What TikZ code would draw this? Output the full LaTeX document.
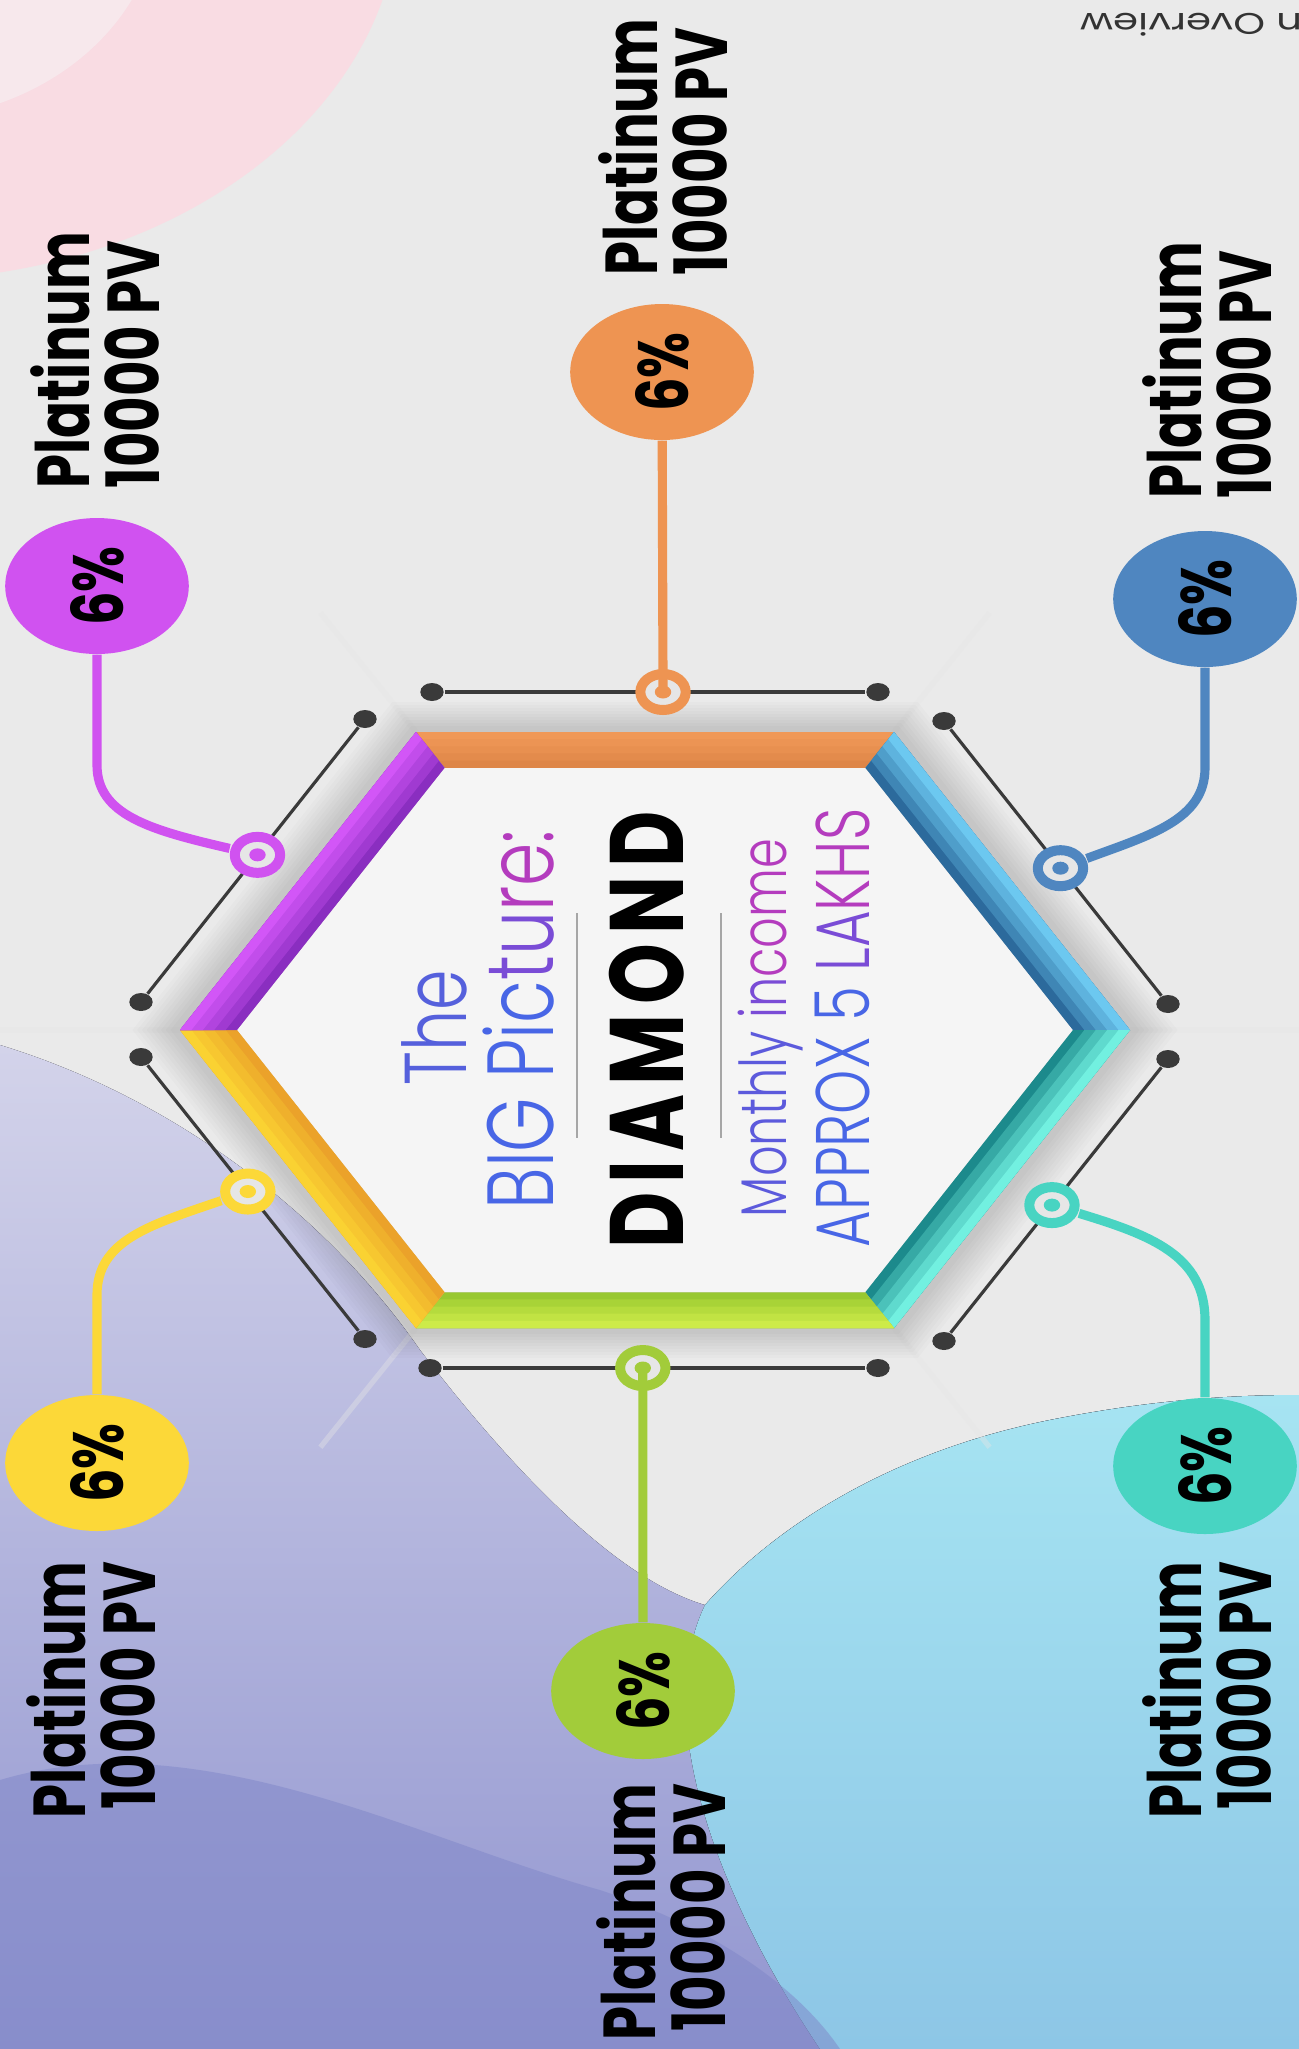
\documentclass[tikz,border=0pt]{standalone}
\usepackage{fontspec}
\usetikzlibrary{calc}
\setmainfont{Poppins}
\IfFontExistsTF{Poppins Light}
  {\newfontfamily\thinfont{Poppins Light}}
  {\newfontfamily\thinfont{Poppins}}
\newfontfamily\wideface[LetterSpace=12]{Poppins}

\definecolor{bgC}{HTML}{EAEAEA}
\definecolor{pinkC}{HTML}{F9DCE3}
\definecolor{pinkL}{HTML}{F7E8EC}
\definecolor{lavC}{HTML}{D3D3EA}
\definecolor{lavD}{HTML}{9296D0}
\definecolor{cyanC}{HTML}{A6E4F2}
\definecolor{cyanD}{HTML}{8DC6E6}
\definecolor{deepC}{HTML}{7F86C8}
\definecolor{railC}{HTML}{3A3A3A}
\definecolor{ringC}{HTML}{E6E6E6}
\definecolor{orangeC}{HTML}{EE9452}
\definecolor{purpleC}{HTML}{D052F0}
\definecolor{blueC}{HTML}{4F86C0}
\definecolor{tealC}{HTML}{48D4C2}
\definecolor{greenC}{HTML}{A2CC3A}
\definecolor{yellowC}{HTML}{FCD838}
% rim colours, outer / inner
\definecolor{orangeA}{HTML}{F09857}
\definecolor{orangeB}{HTML}{DE8648}
\definecolor{blueA}{HTML}{6CC8F0}
\definecolor{blueB}{HTML}{2C6A9C}
\definecolor{tealA}{HTML}{72F0E0}
\definecolor{tealB}{HTML}{1C8A8C}
\definecolor{greenA}{HTML}{CDEB48}
\definecolor{greenB}{HTML}{98C830}
\definecolor{yellowA}{HTML}{FAD232}
\definecolor{yellowB}{HTML}{EBA22A}
\definecolor{purpleA}{HTML}{D256F7}
\definecolor{purpleB}{HTML}{8A2EC0}
% headline colours
\definecolor{theC}{HTML}{5560DC}
\definecolor{blueT}{HTML}{4866E6}
\definecolor{monC}{HTML}{5C5ADC}
\definecolor{violetT}{HTML}{7A4CD6}
\definecolor{magT}{HTML}{B43CBE}

\begin{document}
\begin{tikzpicture}[x=0.1mm, y=-0.1mm,
    pct/.style={circle, fill=#1, minimum size=13.6mm, inner sep=0pt,
      xscale=1.35, rotate=90, font=\bfseries\fontsize{15}{15}\selectfont},
    lab/.style={xscale=1.35, rotate=90, inner sep=0pt,
      font=\bfseries\fontsize{15.5}{14.8}\selectfont},
    ctext/.style={xscale=1.35, rotate=90, inner sep=0pt},
    dotend/.style={circle, fill=railC, minimum size=1.8mm, inner sep=0pt, xscale=1.3},
    ring/.style={circle, draw=#1, fill=ringC, line width=1mm, minimum size=3.6mm,
      inner sep=0pt, xscale=1.26,
      path picture={\fill[#1] (path picture bounding box.center) circle[radius=0.65mm];}},
    rail/.style={draw=railC, line width=0.9pt},
    link/.style={draw=#1, line width=2.6pt},
    sep/.style={draw=gray!70, line width=0.4pt},
    panel/.style={draw=black!10, line width=1.5pt, opacity=0.4}]

  \useasboundingbox (0,0) rectangle (1299,2049);
  \clip (0,0) rectangle (1299,2049);
  \fill[bgC] (0,0) rectangle (1299,2049);

  % backdrop
  \fill[pinkC] (-100,-100) ellipse[x radius=500, y radius=380];
  \fill[pinkL] (-100,-100) ellipse[x radius=260, y radius=220];
  \fill[top color=lavC, bottom color=lavD]
    (0,1045) .. controls (180,1100) and (330,1220) .. (420,1350)
    .. controls (520,1480) and (620,1580) .. (705,1605)
    .. controls (780,1520) and (900,1450) .. (1050,1420)
    .. controls (1150,1400) and (1230,1395) .. (1299,1395)
    -- (1299,2049) -- (0,2049) -- cycle;
  \fill[top color=cyanC, bottom color=cyanD]
    (705,1605) .. controls (780,1520) and (900,1450) .. (1050,1420)
    .. controls (1150,1400) and (1230,1395) .. (1299,1395)
    -- (1299,2049) -- (820,2049)
    .. controls (720,1900) and (650,1720) .. (705,1605) -- cycle;
  \fill[deepC, opacity=0.5]
    (0,1780) .. controls (200,1720) and (420,1840) .. (600,1890)
    .. controls (720,1930) and (800,1990) .. (840,2049) -- (0,2049) -- cycle;

  % hexagon
  \coordinate (hc) at (655,1030);
  \coordinate (o1) at (416,732);
  \coordinate (o2) at (894,732);
  \coordinate (o3) at (1130,1030);
  \coordinate (o4) at (894,1328);
  \coordinate (o5) at (416,1328);
  \coordinate (o6) at (180,1030);
  \foreach \n in {1,...,6}
    \coordinate (i\n) at ($(hc)!0.88!(o\n)$);

  \foreach \v in {o1,o2,o4,o5}
    \draw[panel] (\v) -- ($(hc)!1.4!(\v)$);
  \draw[panel] (o6) -- (0,1030);
  \draw[panel] (o3) -- (1299,1030);
  \foreach \k in {1.10,1.09,...,1.01}
    \fill[black, opacity=0.016, shift={(655,1030)}, scale=\k]
      (-239,-298) -- (239,-298) -- (475,0) -- (239,298) -- (-239,298) -- (-475,0) -- cycle;

  \fill[white!96!black] (i1) -- (i2) -- (i3) -- (i4) -- (i5) -- (i6) -- cycle;
  % coloured rim, dark inside, light outside
  \foreach \a/\b/\ca/\cb in {1/2/orangeA/orangeB, 2/3/blueA/blueB, 3/4/tealA/tealB,
      4/5/greenA/greenB, 5/6/yellowA/yellowB, 6/1/purpleA/purpleB} {
    \fill[\cb] (i\a) -- (i\b) -- (o\b) -- (o\a) -- cycle;
    \fill[\ca!30!\cb] ($(i\a)!0.2!(o\a)$) -- ($(i\b)!0.2!(o\b)$) -- (o\b) -- (o\a) -- cycle;
    \fill[\ca!55!\cb] ($(i\a)!0.4!(o\a)$) -- ($(i\b)!0.4!(o\b)$) -- (o\b) -- (o\a) -- cycle;
    \fill[\ca!78!\cb] ($(i\a)!0.6!(o\a)$) -- ($(i\b)!0.6!(o\b)$) -- (o\b) -- (o\a) -- cycle;
    \fill[\ca] ($(i\a)!0.8!(o\a)$) -- ($(i\b)!0.8!(o\b)$) -- (o\b) -- (o\a) -- cycle;
  }

  % headline
  \node[ctext, text=theC, font=\thinfont\fontsize{18.5}{18.5}\selectfont] (tThe) at (434,1028) {The};
  \node[ctext, font=\thinfont\fontsize{19.8}{19.8}\selectfont] (tBig) at (519,1020)
    {\textcolor{blueT}{BIG Pic}\textcolor{violetT}{tu}\textcolor{magT}{re:}};
  \draw[sep] (577,913) -- (577,1138);
  \node[ctext, font=\wideface\bfseries\fontsize{22}{22}\selectfont] (tDiamond) at (647,1030) {DIAMOND};
  \draw[sep] (721,913) -- (721,1138);
  \node[ctext, font=\thinfont\fontsize{13.6}{13.6}\selectfont] (tMonthly) at (771,1028)
    {\textcolor{monC}{Monthly }\textcolor{violetT}{in}\textcolor{magT}{come}};
  \node[ctext, font=\thinfont\fontsize{16}{16}\selectfont] (tApprox) at (843,1028)
    {\textcolor{blueT}{APPROX 5 }\textcolor{violetT}{LA}\textcolor{magT}{KHS}};

  % rails round the rim
  \node[dotend] (dT1) at (432,692) {};
  \node[dotend] (dT2) at (878,692) {};
  \node[dotend] (dB1) at (430,1368) {};
  \node[dotend] (dB2) at (878,1368) {};
  \node[dotend] (dUL1) at (365,719) {};
  \node[dotend] (dUL2) at (141,1002) {};
  \node[dotend] (dLL1) at (141,1057) {};
  \node[dotend] (dLL2) at (365,1339) {};
  \node[dotend] (dUR1) at (944,721) {};
  \node[dotend] (dUR2) at (1168,1004) {};
  \node[dotend] (dLR1) at (1168,1059) {};
  \node[dotend] (dLR2) at (944,1341) {};
  \draw[rail] (dT1) -- (dT2);
  \draw[rail] (dB1) -- (dB2);
  \draw[rail] (dUL1) -- (dUL2);
  \draw[rail] (dLL1) -- (dLL2);
  \draw[rail] (dUR1) -- (dUR2);
  \draw[rail] (dLR1) -- (dLR2);

  \node[ring=orangeC] (rO) at ($(dT1)!0.518!(dT2)$) {};
  \node[ring=greenC] (rG) at ($(dB1)!0.475!(dB2)$) {};
  \node[ring=purpleC] (rP) at ($(dUL1)!0.48!(dUL2)$) {};
  \node[ring=yellowC] (rY) at ($(dLL1)!0.477!(dLL2)$) {};
  \node[ring=blueC] (rB) at ($(dUR1)!0.52!(dUR2)$) {};
  \node[ring=tealC] (rT) at ($(dLR1)!0.518!(dLR2)$) {};

  % percentages and labels
  \node[pct=orangeC] (pO) at (662,372) {6\%};
  \node[pct=purpleC] (pP) at (97,586) {6\%};
  \node[pct=blueC] (pB) at (1205,599) {6\%};
  \node[pct=yellowC] (pY) at (97,1463) {6\%};
  \node[pct=tealC] (pT) at (1205,1466) {6\%};
  \node[pct=greenC] (pG) at (643,1691) {6\%};

  \node[lab, align=left] (lO) at (663,147) {Platinum\\10000 PV};
  \node[lab, align=left] (lP) at (95,360) {Platinum\\10000 PV};
  \node[lab, align=left] (lB) at (1207,370) {Platinum\\10000 PV};
  \node[lab, align=right] (lY) at (91,1690) {Platinum\\10000 PV};
  \node[lab, align=right] (lT) at (1207,1690) {Platinum\\10000 PV};
  \node[lab, align=right] (lG) at (661,1912) {Platinum\\10000 PV};

  \draw[link=orangeC] (pO) -- (rO.center);
  \draw[link=greenC] (rG.center) -- (pG);
  \draw[link=purpleC] (pP) -- (97,765) .. controls (97,815) and (150,830) .. (rP);
  \draw[link=blueC] (pB) -- (1205,768) .. controls (1205,820) and (1150,835) .. (rB);
  \draw[link=yellowC] (rY) .. controls (150,1225) and (97,1240) .. (97,1295) -- (pY);
  \draw[link=tealC] (rT) .. controls (1150,1235) and (1205,1255) .. (1205,1320) -- (pT);

  \node[xscale=1.35, rotate=180, anchor=west, inner sep=0pt, text=black!80,
    font=\fontsize{8.5}{8.5}\selectfont] (tag) at (1303,25) {n Overview};
\end{tikzpicture}
\end{document}
